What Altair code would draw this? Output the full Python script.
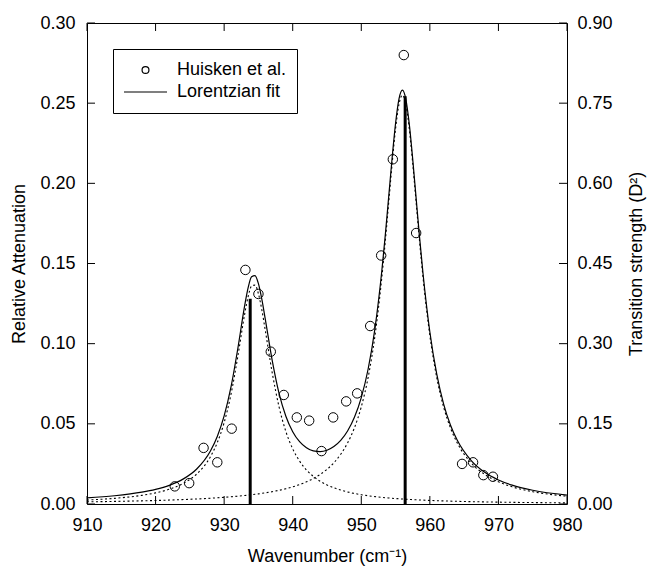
import altair as alt
import pandas as pd

# ---------------- data ----------------
exp_x = [922.8, 924.9, 927.0, 929.0, 931.1, 933.1, 935.0, 936.8, 938.7, 940.6, 942.4, 944.2,
         945.9, 947.8, 949.4, 951.3, 952.9, 954.6, 956.2, 958.0, 964.7, 966.3, 967.8, 969.2]
exp_y = [0.011, 0.013, 0.035, 0.026, 0.047, 0.146, 0.131, 0.095, 0.068, 0.054, 0.052, 0.033,
         0.054, 0.064, 0.069, 0.111, 0.155, 0.215, 0.280, 0.169, 0.025, 0.026, 0.018, 0.017]

fit_x = [910, 914, 918, 920, 922, 924, 926, 928, 929, 930, 931, 932, 933, 933.5, 934, 934.5,
         935, 935.5, 936, 937, 938, 939, 940, 941, 942, 943, 944, 945, 946, 947, 948, 949,
         950, 951, 952, 953, 953.5, 954, 954.5, 955, 955.5, 956, 956.5, 957, 957.5, 958,
         958.5, 959, 960, 961, 962, 963, 964, 966, 968, 970, 972, 975, 980]
fit_total = [0.00383, 0.00514, 0.00736, 0.00912, 0.01165, 0.01551, 0.02184, 0.0331, 0.04215,
             0.05494, 0.073, 0.0971, 0.1239, 0.1349, 0.1417, 0.1425, 0.1374, 0.1276, 0.1153,
             0.0898, 0.0692, 0.05477, 0.04511, 0.03886, 0.03507, 0.03311, 0.03265, 0.03355,
             0.03583, 0.0397, 0.04555, 0.05409, 0.0664, 0.0842, 0.1097, 0.1456, 0.1677, 0.1917,
             0.216, 0.2375, 0.2527, 0.2581, 0.2524, 0.2369, 0.2151, 0.1906, 0.1663, 0.1439,
             0.1073, 0.0811, 0.0625, 0.0493, 0.0397, 0.0272, 0.01974, 0.01497, 0.01175,
             0.00858, 0.00558]
fit_peak1 = [0.00248, 0.00353, 0.00539, 0.00693, 0.0092, 0.01275, 0.0187, 0.0295, 0.03828,
             0.05078, 0.0685, 0.0922, 0.1186, 0.1294, 0.1359, 0.1365, 0.1311, 0.1210, 0.1083,
             0.0821, 0.0607, 0.04524, 0.0344, 0.02675, 0.02126, 0.01723, 0.01421, 0.0119,
             0.0101, 0.00867, 0.00751, 0.00657, 0.0058, 0.00515, 0.0046, 0.00414, 0.00393,
             0.00374, 0.00356, 0.0034, 0.00324, 0.0031, 0.00296, 0.00284, 0.00272, 0.00261,
             0.0025, 0.0024, 0.00222, 0.00206, 0.00192, 0.00179, 0.00167, 0.00147, 0.0013,
             0.00116, 0.00104, 0.00089, 0.00071]
fit_peak2 = [0.00135, 0.00161, 0.00197, 0.00219, 0.00245, 0.00276, 0.00314, 0.0036, 0.00387,
             0.00416, 0.0045, 0.00487, 0.0053, 0.00553, 0.00578, 0.00604, 0.00633, 0.00663,
             0.00696, 0.00769, 0.00854, 0.00953, 0.01071, 0.01211, 0.01381, 0.01588, 0.01844,
             0.02165, 0.02573, 0.03103, 0.03804, 0.04752, 0.0606, 0.079, 0.1051, 0.1415, 0.1638,
             0.188, 0.2124, 0.2341, 0.2494, 0.255, 0.2494, 0.2341, 0.2124, 0.188, 0.1638, 0.1415,
             0.1051, 0.079, 0.0606, 0.04752, 0.03804, 0.02573, 0.01844, 0.01381, 0.01071,
             0.00769, 0.00487]

stick_x = [933.8, 956.4]
stick_strength = [0.384, 0.763]

x_ticks = [910, 920, 930, 940, 950, 960, 970, 980]
y_ticks = [0.0, 0.05, 0.10, 0.15, 0.20, 0.25, 0.30]
y2_ticks = [0.0, 0.15, 0.30, 0.45, 0.60, 0.75, 0.90]

series_names = ["Huisken et al.", "Lorentzian fit"]

# ---------------- tables ----------------
FONT = "Liberation Sans"
W, H = 480, 481
TICK = 8

exp_df = pd.DataFrame({"wn": exp_x, "att": exp_y, "series": series_names[0]})
fit_df = pd.DataFrame({"wn": fit_x, "att": fit_total})
comp_df = pd.concat([
    pd.DataFrame({"wn": fit_x, "att": fit_peak1, "comp": "peak 1"}),
    pd.DataFrame({"wn": fit_x, "att": fit_peak2, "comp": "peak 2"}),
], ignore_index=True)
stick_df = pd.DataFrame({"wn": stick_x, "s": stick_strength})
xt_df = pd.DataFrame({"wn": x_ticks})
yt_df = pd.DataFrame({"att": y_ticks})


def X():
    return alt.X("wn:Q",
                 scale=alt.Scale(domain=[910, 980], nice=False, zero=False),
                 axis=alt.Axis(title="Wavenumber (cm⁻¹)", values=x_ticks, format="d",
                               tickSize=0, domain=False, grid=False, labelFlush=False,
                               labelPadding=12, titlePadding=13))


def Y():
    return alt.Y("att:Q",
                 scale=alt.Scale(domain=[0, 0.30], nice=False, zero=False),
                 axis=alt.Axis(title="Relative Attenuation", values=y_ticks, format=".2f",
                               tickSize=0, domain=False, grid=False, labelFlush=False,
                               labelPadding=12, titlePadding=11))


circle_path = "M-0.16,0A0.16,0.16,0,1,1,0.16,0A0.16,0.16,0,1,1,-0.16,0Z"
line_path = "M-1,0L1,0"

points = alt.Chart(exp_df).mark_point(
    filled=False, color="black", strokeWidth=1, size=3500, opacity=1
).encode(
    x=X(), y=Y(),
    shape=alt.Shape(
        "series:N",
        scale=alt.Scale(domain=series_names, range=[circle_path, line_path]),
        legend=alt.Legend(
            title=None, orient="none", legendX=26, legendY=26,
            strokeColor="black", fillColor="white", padding=10,
            symbolSize=1849, symbolStrokeColor="black", symbolFillColor="transparent",
            symbolStrokeWidth=1.2, labelFont=FONT, labelFontSize=18, labelColor="black",
            labelOffset=9, clipHeight=22, rowPadding=0,
        ),
    ),
)

total_line = alt.Chart(fit_df).mark_line(
    color="black", strokeWidth=1.2, interpolate="monotone"
).encode(x=X(), y=Y())

comp_lines = alt.Chart(comp_df).mark_line(
    color="black", strokeWidth=1.1, strokeDash=[2, 2.5], interpolate="monotone"
).encode(x=X(), y=Y(), detail="comp:N")

bottom_ticks = alt.Chart(xt_df).mark_rule(color="black", strokeWidth=1).encode(
    x=X(), y=alt.value(H), y2=alt.value(H - TICK))
top_ticks = alt.Chart(xt_df).mark_rule(color="black", strokeWidth=1).encode(
    x=X(), y=alt.value(0), y2=alt.value(TICK))
left_ticks = alt.Chart(yt_df).mark_rule(color="black", strokeWidth=1).encode(
    y=Y(), x=alt.value(0), x2=alt.value(TICK))
right_ticks = alt.Chart(yt_df).mark_rule(color="black", strokeWidth=1).encode(
    y=Y(), x=alt.value(W - TICK), x2=alt.value(W))

left_part = alt.layer(comp_lines, total_line, points,
                      bottom_ticks, top_ticks, left_ticks, right_ticks)

sticks = alt.Chart(stick_df).mark_rule(color="black", strokeWidth=3).encode(
    x=X(),
    y=alt.Y("s:Q",
            scale=alt.Scale(domain=[0, 0.90], nice=False, zero=False),
            axis=alt.Axis(orient="right", title="Transition strength (D²)",
                          values=y2_ticks, format=".2f", tickSize=0, domain=False,
                          grid=False, labelFlush=False, labelPadding=10,
                          titlePadding=15, titleAngle=270, titleBaseline="top")),
    y2=alt.datum(0),
)

chart = alt.layer(left_part, sticks).resolve_scale(y="independent").properties(
    width=W, height=H,
    autosize=alt.AutoSizeParams(type="none"),
    padding={"left": 87, "top": 23, "right": 81, "bottom": 65},
    background="white",
).configure_view(
    stroke="black", strokeWidth=1
).configure_axis(
    labelFont=FONT, titleFont=FONT, labelFontSize=18, titleFontSize=18,
    labelColor="black", titleColor="black", titleFontWeight="normal",
)

chart.save("out.html", embed_options={"renderer": "svg", "actions": False})
